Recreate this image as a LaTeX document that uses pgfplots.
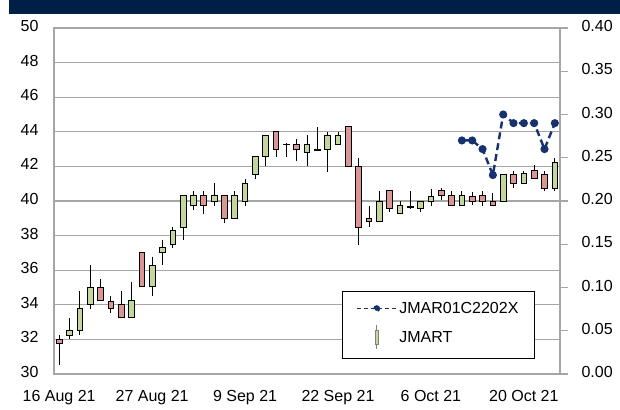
\documentclass[border=0pt]{standalone}
\usepackage{pgfplots}
\pgfplotsset{compat=1.18}
\usepgfplotslibrary{statistics}
\usepackage{fontspec}
\setmainfont{Liberation Sans}
\definecolor{upc}{HTML}{C3D69B}
\definecolor{dnc}{HTML}{D99694}
\definecolor{navyband}{HTML}{001F47}
\definecolor{lineblue}{HTML}{17326E}
\definecolor{gridc}{HTML}{A6A6A6}
% candle: position, lower whisker, body bottom, body top, upper whisker
\newcommand{\cU}[5]{\addplot[draw=black, line width=0.8bp, fill=upc, boxplot prepared={draw position=#1, lower whisker=#2, lower quartile=#3, median=#3, upper quartile=#4, upper whisker=#5}] coordinates {};}
\newcommand{\cD}[5]{\addplot[draw=black, line width=0.8bp, fill=dnc, boxplot prepared={draw position=#1, lower whisker=#2, lower quartile=#3, median=#3, upper quartile=#4, upper whisker=#5}] coordinates {};}
\newcommand{\lblfont}{\fontsize{16bp}{19bp}\selectfont}
\begin{document}
\begin{tikzpicture}
\fill[navyband] (-45bp,360bp) rectangle (566bp,374bp);
\begin{axis}[
  scale only axis, width=506bp, height=346bp, at={(0,0)}, anchor=south west,
  xmin=-0.5, xmax=48.5, ymin=30, ymax=50,
  xtick={0,9,18,27,36,45},
  xticklabels={16 Aug 21, 27 Aug 21, 9 Sep 21, 22 Sep 21, 6 Oct 21, 20 Oct 21},
  ytick={30,32,...,50},
  ymajorgrids, grid style={gridc, line width=1.2bp},
  axis line style={gridc, line width=1.2bp},
  major tick length=0pt,
  tick label style={font=\lblfont},
  /pgf/number format/assume math mode=true,
  yticklabel style={xshift=-12bp, yshift=2bp},
  xticklabel style={yshift=-13bp},
  boxplot/draw direction=y,
  boxplot/box extend=0.55, boxplot/whisker extend=0,
]
\cD{0}{30.5}{31.75}{32.0}{32.25}
\cU{1}{32.0}{32.25}{32.5}{33.25}
\cU{2}{32.25}{32.5}{33.8}{34.8}
\cU{3}{33.75}{34.0}{35.0}{36.3}
\cD{4}{34.25}{34.25}{35.0}{35.5}
\cD{5}{33.5}{33.8}{34.2}{34.5}
\cD{6}{33.25}{33.25}{34.0}{34.8}
\cU{7}{33.25}{33.25}{34.25}{35.3}
\cD{8}{35.05}{35.05}{37.0}{37.0}
\cU{9}{34.5}{35.05}{36.3}{36.75}
\cU{10}{36.3}{37.0}{37.3}{37.75}
\cU{11}{37.3}{37.5}{38.3}{38.5}
\cU{12}{37.75}{38.5}{40.3}{40.3}
\cU{13}{39.5}{39.75}{40.3}{40.6}
\cD{14}{39.25}{39.75}{40.3}{40.6}
\cU{15}{39.7}{40.0}{40.3}{41.05}
\cD{16}{38.7}{39.0}{40.3}{40.3}
\cU{17}{39.0}{39.0}{40.3}{40.6}
\cU{18}{39.7}{40.0}{41.0}{41.3}
\cU{19}{41.3}{41.55}{42.55}{42.55}
\cU{20}{42.0}{42.55}{43.8}{43.8}
\cD{21}{42.55}{43.0}{44.0}{44.0}
\cD{22}{42.55}{43.28}{43.3}{43.35}
\cD{23}{42.3}{43.0}{43.3}{43.6}
\cU{24}{42.0}{42.8}{43.3}{43.8}
\cD{25}{42.9}{42.95}{43.0}{44.3}
\cU{26}{41.7}{43.0}{43.8}{44.0}
\cU{27}{43.3}{43.3}{43.8}{44.0}
\cD{28}{42.0}{42.0}{44.3}{44.3}
\cD{29}{37.45}{38.5}{42.0}{42.5}
\cD{30}{38.5}{38.8}{39.0}{39.7}
\cU{31}{38.8}{38.8}{40.0}{40.6}
\cD{32}{39.35}{39.6}{40.6}{40.6}
\cU{33}{39.3}{39.3}{39.75}{40.0}
\cD{34}{39.55}{39.65}{39.7}{40.6}
\cU{35}{39.35}{39.6}{40.0}{40.0}
\cU{36}{39.7}{40.0}{40.25}{40.7}
\cD{37}{40.05}{40.3}{40.6}{40.75}
\cD{38}{39.75}{39.75}{40.3}{40.6}
\cU{39}{39.75}{39.75}{40.3}{40.6}
\cD{40}{39.75}{40.0}{40.25}{40.5}
\cD{41}{39.7}{40.0}{40.3}{40.55}
\cD{42}{39.75}{39.75}{40.0}{40.45}
\cU{43}{40.0}{40.0}{41.55}{41.55}
\cD{44}{40.75}{41.0}{41.55}{41.75}
\cU{45}{41.0}{41.0}{41.6}{41.75}
\cD{46}{41.3}{41.3}{41.75}{42.1}
\cD{47}{40.55}{40.7}{41.55}{41.75}
\cU{48}{40.55}{40.75}{42.25}{42.5}
\end{axis}
\begin{axis}[
  scale only axis, width=506bp, height=346bp, at={(0,0)}, anchor=south west,
  xmin=-0.5, xmax=48.5, ymin=0, ymax=0.4,
  axis y line*=right, axis x line=none,
  axis line style={gridc, line width=1.2bp, -},
  ytick={0,0.05,0.1,0.15,0.2,0.25,0.3,0.35,0.4},
  tick align=outside, major tick length=8bp,
  tick style={gridc, line width=1.2bp},
  tick label style={font=\lblfont},
  /pgf/number format/assume math mode=true,
  yticklabel style={/pgf/number format/fixed, /pgf/number format/fixed zerofill, /pgf/number format/precision=2, xshift=10bp, yshift=2bp},
  legend cell align=left,
  legend style={at={(0.5686,0.0434)}, anchor=south west, draw=black, line width=0.8bp, fill=white, font=\lblfont, inner xsep=14bp, inner ysep=9bp, row sep=8bp,
    /tikz/every even column/.append style={column sep=8bp}},
]
\addplot[lineblue, line width=2.4bp, dash pattern=on 7bp off 4bp, mark=*, mark size=2.8bp, mark options={solid, fill=lineblue},
  legend image code/.code={\draw[lineblue, line width=1.2bp, dash pattern=on 4bp off 3bp] (0bp,0bp) -- (40bp,0bp); \fill[lineblue] (20bp,0bp) circle (2.2bp);}]
  coordinates {(39,0.27) (40,0.27) (41,0.26) (42,0.23) (43,0.30) (44,0.29) (45,0.29) (46,0.29) (47,0.26) (48,0.29)};
\addlegendentry{JMAR01C2202X}
\addlegendimage{legend image code/.code={\draw[gray, line width=0.6bp] (20bp,-12bp) -- (20bp,12bp); \draw[gray, line width=0.6bp, fill=upc] (18.5bp,-7bp) rectangle (21.5bp,7bp);}}
\addlegendentry{JMART}
\end{axis}
\pgfresetboundingbox
\path[use as bounding box] (-54bp,-36bp) rectangle (566bp,374bp);
\end{tikzpicture}
\end{document}
